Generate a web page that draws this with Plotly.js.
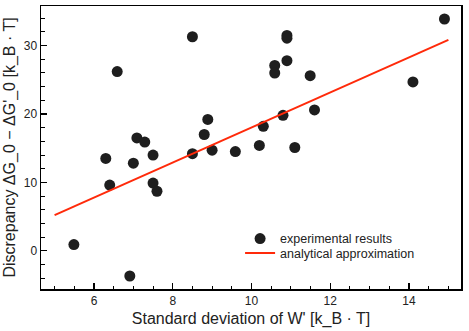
<!DOCTYPE html>
<html>
<head>
<meta charset="utf-8">
<script src="https://cdn.plot.ly/plotly-3.0.1.min.js"></script>
<style>
  html, body { margin: 0; padding: 0; background: #fff; }
  #chart { width: 469px; height: 331px; }
</style>
</head>
<body>
<div id="chart"></div>
<script>
// experimental points
const expX = [6.59, 8.50, 8.89, 8.80, 7.09, 7.29, 6.30, 7.00, 7.50, 8.50, 9.00, 9.59,
  14.90, 10.90, 10.90, 10.90, 10.59, 10.59, 11.49, 14.10, 11.60, 10.80, 10.30, 10.20, 11.10,
  6.40, 7.50, 7.60, 5.49, 6.91];
const expY = [26.2, 31.3, 19.2, 17.0, 16.5, 15.9, 13.5, 12.8, 14.0, 14.2, 14.7, 14.5,
  33.9, 31.5, 31.1, 27.8, 27.1, 26.0, 25.6, 24.7, 20.6, 19.8, 18.2, 15.4, 15.1,
  9.6, 9.9, 8.7, 0.9, -3.7];

// analytical approximation (straight line)
const fitX = [5, 15];
const fitY = [5.2, 30.85];

const font = "Liberation Sans, Arial, Helvetica, sans-serif";

const traces = [
  {
    x: expX, y: expY,
    type: "scatter", mode: "markers",
    name: "experimental results",
    marker: { color: "#1e1e1e", size: 11 },
    legend: "legend",
  },
  {
    x: fitX, y: fitY,
    type: "scatter", mode: "lines",
    name: "analytical approximation",
    line: { color: "#ff2a0a", width: 2 },
    legend: "legend2",
  },
];

const axisCommon = {
  showline: true,
  linecolor: "#000",
  linewidth: 1.5,
  mirror: true,
  showgrid: false,
  zeroline: false,
  ticks: "inside",
  ticklen: 6,
  tickwidth: 1.2,
  tickcolor: "#000",
  tickfont: { family: font, size: 12, color: "#222" },
};

// one legend per entry so the two rows sit close together
const legendCommon = {
  xanchor: "left", yanchor: "top",
  bgcolor: "rgba(0,0,0,0)",
  font: { family: font, size: 12.5, color: "#222" },
};

const layout = {
  width: 469,
  height: 331,
  margin: { l: 41, r: 8, t: 6, b: 42 },
  paper_bgcolor: "#fff",
  plot_bgcolor: "#fff",
  showlegend: true,
  legend: Object.assign({}, legendCommon, { x: 0.474, y: 0.23 }),
  legend2: Object.assign({}, legendCommon, { x: 0.474, y: 0.179 }),
  xaxis: Object.assign({}, axisCommon, {
    range: [4.655, 15.32],
    dtick: 2, tick0: 0,
    minor: { dtick: 0.5, ticks: "inside", ticklen: 3.5, tickwidth: 1, tickcolor: "#000" },
    title: { text: "Standard deviation of W' [k_B · T]", font: { family: font, size: 16, color: "#222" }, standoff: 6 },
  }),
  yaxis: Object.assign({}, axisCommon, {
    range: [-5.6, 35.8],
    dtick: 10, tick0: 0,
    minor: { dtick: 2, ticks: "inside", ticklen: 3.5, tickwidth: 1, tickcolor: "#000" },
    title: { text: "Discrepancy ΔG_0 − ΔG'_0 [k_B · T]", font: { family: font, size: 16, color: "#222" }, standoff: 4 },
  }),
};

Plotly.newPlot("chart", traces, layout, { staticPlot: true });
</script>
</body>
</html>
